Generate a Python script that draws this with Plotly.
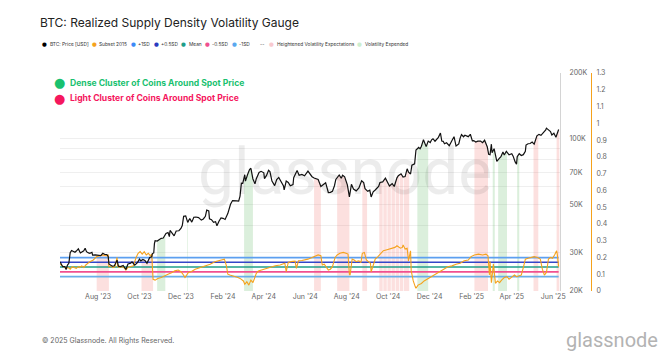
import numpy as np
import pandas as pd
import plotly.graph_objects as go

# ---------------- data ----------------
price_dates = [
"2023-06-06","2023-06-08","2023-06-10","2023-06-13","2023-06-15","2023-06-17","2023-06-19","2023-06-20","2023-06-21","2023-06-23",
"2023-06-26","2023-06-28","2023-06-30","2023-07-03","2023-07-06","2023-07-08","2023-07-11","2023-07-13","2023-07-15","2023-07-18",
"2023-07-20","2023-07-23","2023-07-24","2023-07-28","2023-07-31","2023-08-03","2023-08-05","2023-08-08","2023-08-11","2023-08-14",
"2023-08-16","2023-08-17","2023-08-20","2023-08-22","2023-08-25","2023-08-29","2023-08-31","2023-09-03","2023-09-07","2023-09-11",
"2023-09-14","2023-09-18","2023-09-20","2023-09-24","2023-09-28","2023-10-01","2023-10-03","2023-10-06","2023-10-09","2023-10-12",
"2023-10-16","2023-10-19","2023-10-20","2023-10-22","2023-10-23","2023-10-24","2023-10-27","2023-10-30","2023-11-02","2023-11-05",
"2023-11-09","2023-11-12","2023-11-14","2023-11-15","2023-11-18","2023-11-21","2023-11-24","2023-11-28","2023-12-01","2023-12-03",
"2023-12-05","2023-12-08","2023-12-11","2023-12-14","2023-12-17","2023-12-20","2023-12-23","2023-12-27","2023-12-31","2024-01-03",
"2024-01-06","2024-01-08","2024-01-11","2024-01-12","2024-01-15","2024-01-18","2024-01-21","2024-01-23","2024-01-26","2024-01-29",
"2024-02-01","2024-02-04","2024-02-08","2024-02-10","2024-02-12","2024-02-15","2024-02-18","2024-02-21","2024-02-24","2024-02-26",
"2024-02-28","2024-03-01","2024-03-04","2024-03-05","2024-03-08","2024-03-11","2024-03-13","2024-03-16","2024-03-19","2024-03-21",
"2024-03-25","2024-03-28","2024-04-01","2024-04-02","2024-04-05","2024-04-08","2024-04-10","2024-04-13","2024-04-17","2024-04-20",
"2024-04-23","2024-04-26","2024-04-30","2024-05-01","2024-05-04","2024-05-07","2024-05-10","2024-05-14","2024-05-15","2024-05-20",
"2024-05-23","2024-05-27","2024-05-31","2024-06-05","2024-06-07","2024-06-11","2024-06-14","2024-06-18","2024-06-20","2024-06-24",
"2024-06-27","2024-07-01","2024-07-05","2024-07-08","2024-07-11","2024-07-14","2024-07-16","2024-07-19","2024-07-21","2024-07-24",
"2024-07-26","2024-07-29","2024-08-02","2024-08-05","2024-08-08","2024-08-11","2024-08-15","2024-08-19","2024-08-23","2024-08-26",
"2024-08-28","2024-09-01","2024-09-04","2024-09-06","2024-09-09","2024-09-12","2024-09-15","2024-09-17","2024-09-19","2024-09-23",
"2024-09-27","2024-09-30","2024-10-03","2024-10-07","2024-10-10","2024-10-14","2024-10-16","2024-10-20","2024-10-23","2024-10-26",
"2024-10-29","2024-10-31","2024-11-03","2024-11-05","2024-11-07","2024-11-09","2024-11-11","2024-11-13","2024-11-15","2024-11-17",
"2024-11-19","2024-11-22","2024-11-25","2024-11-26","2024-11-29","2024-12-02","2024-12-04","2024-12-06","2024-12-09","2024-12-12",
"2024-12-14","2024-12-17","2024-12-19","2024-12-21","2024-12-23","2024-12-26","2024-12-28","2024-12-30","2025-01-03","2025-01-06",
"2025-01-09","2025-01-13","2025-01-15","2025-01-17","2025-01-20","2025-01-22","2025-01-27","2025-01-30","2025-02-02","2025-02-04",
"2025-02-07","2025-02-10","2025-02-14","2025-02-17","2025-02-20","2025-02-24","2025-02-26","2025-02-28","2025-03-02","2025-03-03",
"2025-03-06","2025-03-09","2025-03-10","2025-03-13","2025-03-16","2025-03-19","2025-03-21","2025-03-24","2025-03-28","2025-04-01",
"2025-04-03","2025-04-06","2025-04-08","2025-04-09","2025-04-12","2025-04-15","2025-04-18","2025-04-21","2025-04-22","2025-04-25",
"2025-04-28","2025-05-01","2025-05-04","2025-05-08","2025-05-11","2025-05-14","2025-05-18","2025-05-21","2025-05-22","2025-05-26",
"2025-05-28","2025-05-30","2025-06-02","2025-06-05","2025-06-07","2025-06-09"]
price_values = [
27200,26500,25850,25900,25100,26300,26800,28300,30000,30700,
30300,30100,30500,31200,29900,30300,30600,31400,30300,29900,
29800,30100,29200,29300,29200,29200,29050,29800,29400,29400,
28700,26600,26200,26000,26100,27700,26000,25900,26200,25100,
26600,26800,27200,26300,27000,28000,27500,27900,27600,26800,
28500,28700,29700,29900,33000,34000,33900,34500,34900,35000,
36700,37100,35500,37900,36600,35800,37700,37800,38700,39900,
44000,44200,41300,43000,41400,43600,43700,43400,42300,42800,
44000,47000,46600,42900,42500,41300,41600,39800,41800,43300,
43100,42600,45300,47800,50000,52000,52100,51800,51700,54500,
62500,62400,68300,63800,68300,72100,73100,65300,62000,65500,
69900,70800,69700,65500,67800,71600,70600,63900,60900,64900,
66400,63800,60600,58200,63900,62900,60800,61500,66200,71400,
67900,68500,67500,71000,69300,66900,66000,65100,64900,60300,
61600,62800,56600,56700,57300,60800,65000,66700,68100,65800,
67900,66800,61400,54000,61700,58700,57600,59400,64100,62900,
59000,57300,58000,54000,57000,58100,59100,60300,62900,63300,
65800,63300,60600,62200,60300,66100,67600,69000,66700,67000,
72700,70200,68800,75600,76500,76700,88700,90400,91100,89800,
92300,98900,93100,91900,97400,95900,98800,99900,97300,100000,
101400,106100,97500,97200,94700,95700,94300,92800,98100,102100,
92500,94500,100500,104400,102000,103600,102100,104700,97700,98000,
96500,97400,97500,95800,98300,91500,84700,84400,94300,86100,
89900,80700,78600,80800,82600,86900,84100,87500,84300,85200,
83100,78200,76300,82600,85300,83700,84400,87500,93400,94700,
95000,96500,94300,103000,104600,103500,106500,109600,111700,109400,
107800,103900,105800,101500,105600,110200]

subset_dates = [
"2023-06-06","2023-06-09","2023-06-12","2023-06-15","2023-06-18","2023-06-21","2023-06-24","2023-06-27","2023-06-30","2023-07-03",
"2023-07-05","2023-07-08","2023-07-11","2023-07-14","2023-07-17","2023-07-20","2023-07-25","2023-07-28","2023-07-30","2023-08-04",
"2023-08-08","2023-08-13","2023-08-16","2023-08-17","2023-08-20","2023-08-23","2023-08-26","2023-08-29","2023-08-30","2023-09-02",
"2023-09-07","2023-09-11","2023-09-14","2023-09-17","2023-09-22","2023-09-26","2023-09-29","2023-10-02","2023-10-05","2023-10-08",
"2023-10-11","2023-10-14","2023-10-17","2023-10-19","2023-10-21","2023-10-24","2023-10-28","2023-11-02","2023-11-06","2023-11-12",
"2023-11-18","2023-11-22","2023-11-27","2023-12-01","2023-12-04","2023-12-07","2023-12-12","2023-12-16","2023-12-22","2023-12-29",
"2024-01-06","2024-01-13","2024-01-20","2024-01-28","2024-02-03","2024-02-06","2024-02-08","2024-02-11","2024-02-16","2024-02-20",
"2024-02-23","2024-02-26","2024-03-02","2024-03-04","2024-03-07","2024-03-10","2024-03-13","2024-03-16","2024-03-21","2024-03-24",
"2024-03-28","2024-04-03","2024-04-10","2024-04-18","2024-04-25","2024-05-02","2024-05-04","2024-05-07","2024-05-11","2024-05-17",
"2024-05-19","2024-05-22","2024-05-27","2024-06-01","2024-06-05","2024-06-11","2024-06-16","2024-06-20","2024-06-24","2024-06-26",
"2024-06-29","2024-07-02","2024-07-05","2024-07-08","2024-07-11","2024-07-15","2024-07-18","2024-07-22","2024-07-27","2024-07-31",
"2024-08-03","2024-08-05","2024-08-06","2024-08-09","2024-08-12","2024-08-15","2024-08-19","2024-08-22","2024-08-24","2024-08-27",
"2024-08-30","2024-09-02","2024-09-05","2024-09-06","2024-09-09","2024-09-12","2024-09-16","2024-09-19","2024-09-24","2024-09-28",
"2024-10-03","2024-10-07","2024-10-11","2024-10-14","2024-10-19","2024-10-22","2024-10-23","2024-10-26","2024-10-29","2024-10-31",
"2024-11-03","2024-11-04","2024-11-07","2024-11-10","2024-11-11","2024-11-14","2024-11-19","2024-11-23","2024-11-29","2024-12-05",
"2024-12-11","2024-12-17","2024-12-23","2024-12-28","2025-01-03","2025-01-09","2025-01-15","2025-01-21","2025-01-27","2025-01-31",
"2025-02-05","2025-02-11","2025-02-17","2025-02-22","2025-02-25","2025-02-27","2025-02-28","2025-03-02","2025-03-05","2025-03-08",
"2025-03-11","2025-03-14","2025-03-17","2025-03-21","2025-03-25","2025-03-28","2025-03-31","2025-04-05","2025-04-08","2025-04-11",
"2025-04-15","2025-04-18","2025-04-21","2025-04-25","2025-04-30","2025-05-04","2025-05-09","2025-05-13","2025-05-16","2025-05-19",
"2025-05-22","2025-05-25","2025-05-28","2025-05-31","2025-06-03","2025-06-06","2025-06-07","2025-06-09"]
subset_values = [
0.160,0.150,0.140,0.135,0.140,0.130,0.145,0.140,0.135,0.145,
0.140,0.150,0.140,0.155,0.165,0.175,0.185,0.195,0.205,0.210,
0.215,0.210,0.215,0.145,0.150,0.140,0.145,0.200,0.145,0.140,
0.145,0.125,0.140,0.145,0.150,0.200,0.225,0.235,0.220,0.235,
0.215,0.225,0.210,0.220,0.070,0.065,0.075,0.080,0.090,0.100,
0.110,0.120,0.125,0.115,0.100,0.080,0.110,0.115,0.130,0.140,
0.150,0.160,0.175,0.185,0.190,0.150,0.100,0.095,0.090,0.085,
0.080,0.075,0.060,0.040,0.055,0.035,0.065,0.050,0.105,0.120,
0.125,0.135,0.140,0.151,0.155,0.165,0.115,0.170,0.175,0.178,
0.135,0.180,0.182,0.185,0.190,0.200,0.210,0.215,0.210,0.155,
0.160,0.145,0.125,0.130,0.145,0.200,0.215,0.225,0.230,0.225,
0.220,0.100,0.095,0.190,0.185,0.175,0.180,0.170,0.225,0.230,
0.185,0.175,0.165,0.115,0.150,0.190,0.205,0.220,0.240,0.245,
0.250,0.255,0.260,0.270,0.255,0.260,0.275,0.250,0.255,0.180,
0.240,0.120,0.060,0.025,0.016,0.035,0.045,0.060,0.075,0.090,
0.100,0.120,0.135,0.145,0.150,0.160,0.165,0.180,0.185,0.205,
0.215,0.220,0.215,0.220,0.210,0.095,0.175,0.050,0.160,0.046,
0.060,0.050,0.065,0.080,0.085,0.070,0.080,0.095,0.085,0.090,
0.095,0.140,0.190,0.195,0.200,0.205,0.200,0.190,0.130,0.095,
0.110,0.190,0.200,0.195,0.215,0.240,0.220,0.145]

sd_names = ["+1SD", "+0.5SD", "Mean", "-0.5SD", "-1SD"]
sd_values = [0.199, 0.171, 0.143, 0.114, 0.086]
sd_colors = ["#5c9ff0", "#3446c8", "#1f9e8a", "#f0508f", "#6aaee8"]

heightened_starts = ["2023-07-30","2023-10-04","2024-06-14","2024-07-18","2024-08-24",
                     "2024-09-18","2024-09-24","2024-09-30","2024-10-06","2024-10-12","2024-10-18","2024-10-24",
                     "2025-02-05","2025-05-03","2025-06-06"]
heightened_ends   = ["2023-08-17","2023-10-21","2024-06-24","2024-08-05","2024-08-31",
                     "2024-09-23","2024-09-29","2024-10-05","2024-10-11","2024-10-17","2024-10-23","2024-11-01",
                     "2025-02-25","2025-05-10","2025-06-10"]
expended_starts = ["2023-10-27","2023-12-10","2024-03-03","2024-11-13","2025-03-04","2025-03-12","2025-04-09"]
expended_ends   = ["2023-11-08","2023-12-11","2024-03-16","2024-11-29","2025-03-07","2025-03-25","2025-04-12"]

price_tickvals = [20000, 30000, 40000, 50000, 60000, 70000, 80000, 90000, 100000, 200000]
price_ticktext = ["20K", "30K", "", "50K", "", "70K", "", "", "100K", "200K"]
right_tickvals = [0, 0.1, 0.2, 0.3, 0.4, 0.5, 0.6, 0.7, 0.8, 0.9, 1, 1.1, 1.2, 1.3]
right_ticktext = ["0", "0.1", "0.2", "0.3", "0.4", "0.5", "0.6", "0.7", "0.8", "0.9", "1", "1.1", "1.2", "1.3"]

legend_names = ["BTC: Price [USD]", "Subset 2015", "+1SD", "+0.5SD", "Mean", "-0.5SD", "-1SD", "--",
                "Heightened Volatility Expectations", "Volatility Expended"]
legend_colors = ["#000000", "#f5a21c", "#3d8af7", "#2b3bbf", "#1f9e8a", "#f0508f", "#5aa8ef", None,
                 "#f8c9cf", "#cdeecf"]

# ---------------- figure ----------------
W, H = 666, 355
ML, MR, MT, MB = 60, 75, 73, 64
PW = W - ML - MR  # 531
PH = H - MT - MB  # 218
X_RIGHT = 560

def px(xp):
    return (xp - ML) / PW

def py(yp):
    return (H - MB - yp) / PH

pdates = pd.to_datetime(price_dates)
pt = pdates.asi8.astype(float)
pv = np.array(price_values, dtype=float)
BASE = 20000

def band_polys(starts, ends):
    xs, ys = [], []
    for s, e in zip(starts, ends):
        s_ts, e_ts = pd.Timestamp(s), pd.Timestamp(e)
        m = (pdates > s_ts) & (pdates < e_ts)
        bx = [s_ts] + list(pdates[m]) + [e_ts, e_ts, s_ts, s_ts]
        ps = float(np.interp(float(s_ts.value), pt, pv))
        pe = float(np.interp(float(e_ts.value), pt, pv))
        by = [ps] + list(pv[m]) + [pe, BASE, BASE, ps]
        xs += bx + [None]
        ys += by + [None]
    return xs, ys

fig = go.Figure()

hx, hy = band_polys(heightened_starts, heightened_ends)
fig.add_trace(go.Scatter(x=hx, y=hy, mode="lines", line=dict(width=0), fill="toself",
                         fillcolor="rgba(239,83,80,0.18)", yaxis="y", showlegend=False,
                         name="Heightened Volatility Expectations"))
ex, ey = band_polys(expended_starts, expended_ends)
fig.add_trace(go.Scatter(x=ex, y=ey, mode="lines", line=dict(width=0), fill="toself",
                         fillcolor="rgba(76,175,80,0.2)", yaxis="y", showlegend=False,
                         name="Volatility Expended"))

x_span = [price_dates[0], price_dates[-1]]
for n, v, c in zip(sd_names, sd_values, sd_colors):
    fig.add_trace(go.Scatter(x=x_span, y=[v, v], mode="lines", line=dict(color=c, width=1.6),
                             yaxis="y2", name=n, showlegend=False))

fig.add_trace(go.Scatter(x=subset_dates, y=subset_values, mode="lines",
                         line=dict(color="#f5a21c", width=1.1), yaxis="y2",
                         name="Subset 2015", showlegend=False))

fig.add_trace(go.Scatter(x=price_dates, y=price_values, mode="lines",
                         line=dict(color="#111111", width=1.2), yaxis="y3",
                         name="BTC: Price [USD]", showlegend=False))

annotations = []
# legend row
legend_dot_x = [44, 94, 133, 156, 183, 207, 234, None, 271, 359]
legend_text_x = [47.5, 97, 136, 159, 187, 210, 237, 258, 274.5, 362.5]
for name, col, dx, tx in zip(legend_names, legend_colors, legend_dot_x, legend_text_x):
    if col is not None and dx is not None:
        annotations.append(dict(x=px(dx), y=py(44), xref="paper", yref="paper", text="●",
                                showarrow=False, xanchor="center", yanchor="middle",
                                font=dict(size=5.5, color=col, family="DejaVu Sans")))
    annotations.append(dict(x=px(tx), y=py(44), xref="paper", yref="paper", text=name,
                            showarrow=False, xanchor="left", yanchor="middle",
                            font=dict(size=4.8, color="#333333", family="Inter")))

# in-chart notes
annotations.append(dict(x=px(59), y=py(83), xref="paper", yref="paper", text="●", showarrow=False,
                        xanchor="center", yanchor="middle",
                        font=dict(size=13, color="#19c16f", family="DejaVu Sans")))
annotations.append(dict(x=px(67.5), y=py(83), xref="paper", yref="paper",
                        text="<b>Dense Cluster of Coins Around Spot Price</b>", showarrow=False,
                        xanchor="left", yanchor="middle",
                        font=dict(size=8.6, color="#19c16f", family="Inter")))
annotations.append(dict(x=px(59), y=py(98), xref="paper", yref="paper", text="●", showarrow=False,
                        xanchor="center", yanchor="middle",
                        font=dict(size=13, color="#f5175e", family="DejaVu Sans")))
annotations.append(dict(x=px(67.5), y=py(98), xref="paper", yref="paper",
                        text="<b>Light Cluster of Coins Around Spot Price</b>", showarrow=False,
                        xanchor="left", yanchor="middle",
                        font=dict(size=8.6, color="#f5175e", family="Inter")))

# watermark
annotations.append(dict(x=px(345), y=py(172), xref="paper", yref="paper", text="glassnode",
                        showarrow=False, xanchor="center", yanchor="middle",
                        font=dict(size=64, color="rgba(0,0,0,0.075)", family="Roboto")))
# footer
annotations.append(dict(x=px(40), y=py(340), xref="paper", yref="paper",
                        text="© 2025 Glassnode. All Rights Reserved.", showarrow=False,
                        xanchor="left", yanchor="middle",
                        font=dict(size=7, color="#666666", family="Inter")))
annotations.append(dict(x=px(660), y=py(340), xref="paper", yref="paper", text="glassnode",
                        showarrow=False, xanchor="right", yanchor="middle",
                        font=dict(size=20, color="#b3b3b3", family="Roboto")))

fig.update_layout(
    width=W, height=H,
    margin=dict(l=ML, r=MR, t=MT, b=MB, pad=0),
    paper_bgcolor="white", plot_bgcolor="white",
    showlegend=False,
    title=dict(text="BTC: Realized Supply Density Volatility Gauge", x=40 / W, xanchor="left",
               y=1 - 23 / H, yanchor="middle",
               font=dict(size=12, color="#222222", family="Inter")),
    xaxis=dict(type="date", domain=[0, (X_RIGHT - ML) / PW],
               range=["2023-06-06", "2025-06-11"],
               tickformat="%b '%y", dtick="M2", tick0="2023-08-01",
               showgrid=False, zeroline=False, showline=False, ticks="",
               tickfont=dict(size=7, color="#666666", family="Inter")),
    yaxis=dict(type="log", side="right", anchor="x",
               range=[np.log10(20000), np.log10(200000)],
               tickvals=price_tickvals, ticktext=price_ticktext,
               showgrid=True, gridcolor="#efefef", gridwidth=1,
               showline=True, linecolor="#d4d4d4", linewidth=1,
               zeroline=False, ticks="", ticklabelstandoff=7,
               tickfont=dict(size=7, color="#666666", family="Inter")),
    yaxis2=dict(overlaying="y", side="right", anchor="free", position=1.0,
                range=[0, 1.3], tickvals=right_tickvals, ticktext=right_ticktext,
                showgrid=False, zeroline=False, showline=True, linecolor="#f5a21c", linewidth=1,
                ticks="", ticklabelstandoff=3,
                tickfont=dict(size=7, color="#666666", family="Inter")),
    yaxis3=dict(overlaying="y", type="log", anchor="x",
                range=[np.log10(20000), np.log10(200000)], visible=False),
    annotations=annotations,
)

fig.write_html("out.html", config={"displayModeBar": False},
               post_script="document.body.style.margin='0';document.body.style.padding='0';")
